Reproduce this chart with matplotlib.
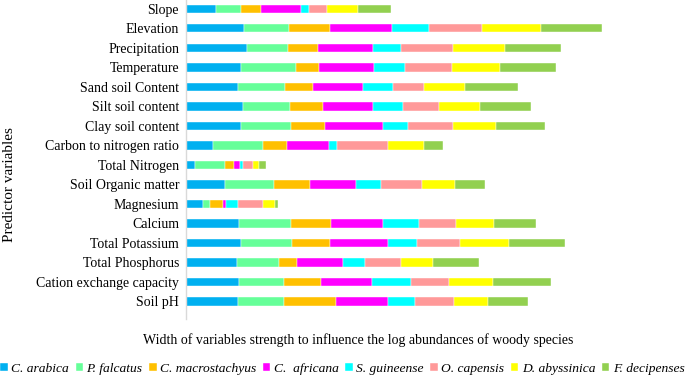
import matplotlib
matplotlib.use("Agg")
import matplotlib.pyplot as plt
import numpy as np

categories = ["Slope", "Elevation", "Precipitation", "Temperature", "Sand soil Content",
              "Silt soil content", "Clay soil content", "Carbon to nitrogen ratio",
              "Total Nitrogen", "Soil Organic matter", "Magnesium", "Calcium",
              "Total Potassium", "Total Phosphorus", "Cation exchange capacity", "Soil pH"]

species = ["C. arabica", "P. falcatus", "C. macrostachyus", "C.  africana",
           "S. guineense", "O. capensis", "D. abyssinica", "F. decipenses"]

c_arabica      = [30.0, 58.3, 60.6, 55.3, 51.6, 56.6, 55.3, 27.3, 9.3, 38.6, 16.6, 52.6, 55.3, 50.6, 53.3, 52.3]
p_falcatus     = [25.0, 45.0, 41.4, 55.0, 47.0, 47.4, 49.7, 50.0, 29.3, 49.7, 7.7, 52.0, 50.3, 42.7, 45.0, 46.0]
c_macrostachys = [20.3, 41.0, 30.0, 22.3, 28.7, 33.0, 33.6, 24.0, 9.7, 36.0, 13.0, 40.7, 38.0, 18.0, 37.0, 52.0]
c_africana     = [40.0, 61.3, 55.3, 55.7, 50.0, 49.6, 58.0, 42.0, 6.0, 46.0, 2.7, 52.0, 58.7, 46.0, 51.0, 52.0]
s_guineense    = [7.7, 37.0, 27.7, 30.3, 29.3, 30.7, 25.4, 7.3, 2.7, 25.0, 12.0, 35.5, 29.0, 21.3, 38.3, 26.7]
o_capensis     = [18.0, 53.0, 52.3, 47.0, 31.0, 36.0, 45.0, 51.7, 10.3, 41.0, 24.6, 37.3, 43.0, 36.7, 38.7, 38.6]
d_abyssinica   = [31.0, 59.4, 52.0, 48.0, 41.7, 40.7, 43.4, 36.0, 6.0, 32.3, 12.4, 38.0, 48.3, 31.3, 43.3, 34.7]
f_decipenses   = [32.6, 60.6, 56.0, 56.7, 52.3, 51.0, 49.0, 18.3, 6.7, 30.0, 3.3, 42.3, 56.4, 46.7, 58.0, 39.3]

series = [c_arabica, p_falcatus, c_macrostachys, c_africana,
          s_guineense, o_capensis, d_abyssinica, f_decipenses]
colors = ["#00B0F0", "#66FF99", "#FFC000", "#FF00FF",
          "#00FFFF", "#FF9999", "#FFFF00", "#92D050"]

plt.rcParams['font.family'] = ['Liberation Serif', 'DejaVu Serif']

W, H = 685, 381
fig = plt.figure(figsize=(W / 100, H / 100), dpi=100)
ax_left, ax_right = 186, 680
ax_top, ax_bot = 0, 319
ax = fig.add_axes([ax_left / W, 1 - ax_bot / H, (ax_right - ax_left) / W, (ax_bot - ax_top) / H])

n = len(categories)
y = np.arange(n)
left = np.zeros(n)
for vals, col, name in zip(series, colors, species):
    vals = np.array(vals)
    ax.barh(y, vals, left=left, height=0.43, color=col, label=name,
            edgecolor="white", linewidth=0.3)
    left += vals

ax.set_xlim(0, ax_right - ax_left)
ax.set_ylim(n - 0.5 + 0.4, -0.5 + 0.05)
ax.set_yticks(y)
ax.set_yticklabels(categories, fontsize=10)
ax.tick_params(axis='y', length=0, pad=5)
ax.set_xticks([])
for s in ["top", "right", "bottom"]:
    ax.spines[s].set_visible(False)
ax.spines["left"].set_color("#D9D9D9")
ax.spines["left"].set_linewidth(1.0)

fig.text(10 / W, 1 - 185 / H, "Predictor variables", rotation=90, fontsize=11,
         ha="center", va="center")
fig.text(358 / W, 1 - 340 / H,
         "Width of variables strength to influence the log abundances of woody species",
         fontsize=10, ha="center", va="center")

handles, labels = ax.get_legend_handles_labels()
leg = fig.legend(handles, labels, loc="center", bbox_to_anchor=(0.5, 1 - 369 / H),
                 ncol=8, frameon=False, prop={"style": "italic", "size": 9.7},
                 handlelength=0.55, handleheight=0.55, handletextpad=0.25,
                 columnspacing=0.5, borderaxespad=0, borderpad=0)

fig.savefig("out.png", dpi=100)
